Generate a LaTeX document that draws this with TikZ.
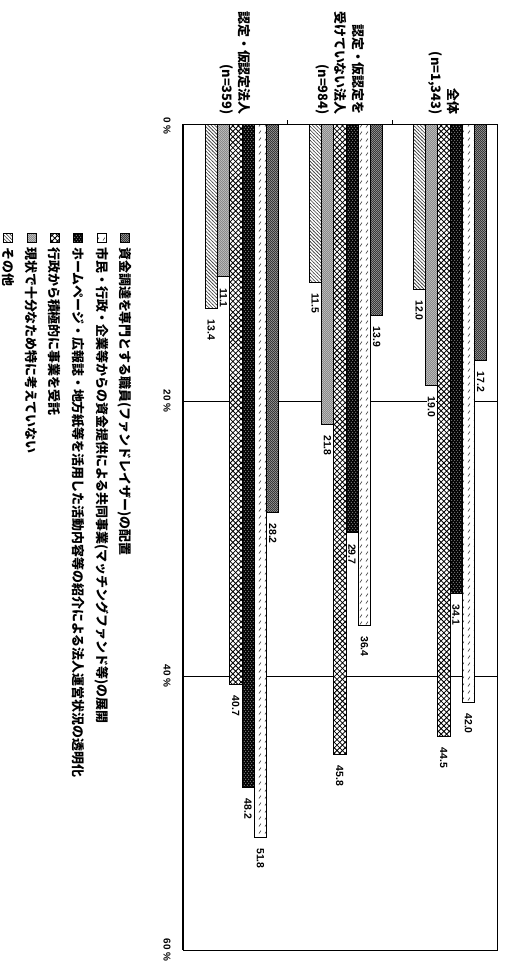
\documentclass[tikz,border=0pt]{standalone}
\usepackage{fontspec}
\setmainfont{Liberation Sans}
\newfontfamily\jp{Noto Sans CJK JP}
\usetikzlibrary{patterns}
\pgfdeclarepatternformonly{chk}{\pgfqpoint{0pt}{0pt}}{\pgfqpoint{2.4pt}{2.4pt}}{\pgfqpoint{2.4pt}{2.4pt}}{%
  \pgfpathrectangle{\pgfqpoint{0pt}{0pt}}{\pgfqpoint{0.9pt}{0.9pt}}%
  \pgfpathrectangle{\pgfqpoint{1.2pt}{1.2pt}}{\pgfqpoint{0.9pt}{0.9pt}}%
  \pgfusepath{fill}}
\pgfdeclarepatternformonly{spk}{\pgfqpoint{0pt}{0pt}}{\pgfqpoint{3pt}{4pt}}{\pgfqpoint{3pt}{4pt}}{%
  \pgfpathrectangle{\pgfqpoint{0.5pt}{0.5pt}}{\pgfqpoint{0.7pt}{0.7pt}}%
  \pgfpathrectangle{\pgfqpoint{2pt}{2.5pt}}{\pgfqpoint{0.7pt}{0.7pt}}%
  \pgfusepath{fill}}
\pgfdeclarepatternformonly{slsh}{\pgfqpoint{0pt}{0pt}}{\pgfqpoint{6pt}{7pt}}{\pgfqpoint{6pt}{7pt}}{%
  \pgfsetlinewidth{0.6pt}%
  \pgfpathmoveto{\pgfqpoint{2pt}{1.5pt}}\pgfpathlineto{\pgfqpoint{4pt}{4.5pt}}%
  \pgfusepath{stroke}}
\pgfdeclarepatternformonly{xlat}{\pgfqpoint{-0.5pt}{-0.5pt}}{\pgfqpoint{6pt}{6pt}}{\pgfqpoint{5.5pt}{5.5pt}}{%
  \pgfsetlinewidth{0.8pt}%
  \pgfpathmoveto{\pgfqpoint{-0.3pt}{-0.3pt}}\pgfpathlineto{\pgfqpoint{5.8pt}{5.8pt}}%
  \pgfpathmoveto{\pgfqpoint{-0.3pt}{5.8pt}}\pgfpathlineto{\pgfqpoint{5.8pt}{-0.3pt}}%
  \pgfusepath{stroke}}
\pgfdeclarepatternformonly{bsl}{\pgfqpoint{-0.5pt}{-0.5pt}}{\pgfqpoint{4pt}{4pt}}{\pgfqpoint{3.5pt}{3.5pt}}{%
  \pgfsetlinewidth{0.6pt}%
  \pgfpathmoveto{\pgfqpoint{-0.3pt}{3.8pt}}\pgfpathlineto{\pgfqpoint{3.8pt}{-0.3pt}}%
  \pgfusepath{stroke}}
\tikzset{
  s1/.style={preaction={fill=black!85}, pattern=chk, pattern color=white},
  s2/.style={preaction={fill=white}, pattern=slsh, pattern color=black!75},
  s3/.style={preaction={fill=black}, pattern=spk, pattern color=white},
  s4/.style={preaction={fill=white}, pattern=xlat, pattern color=black},
  s5/.style={preaction={fill=black!50}, pattern=chk, pattern color=white},
  s6/.style={preaction={fill=white}, pattern=bsl, pattern color=black!75},
  barline/.style={line width=0.8bp, draw=black},
  vlab/.style={rotate=-90, anchor=west, fill=white, inner xsep=1bp, inner ysep=1.2bp,
    font=\bfseries\fontsize{10.5}{11}\selectfont},
  cat/.style={rotate=-90, anchor=east, align=right, inner sep=0pt,
    font=\jp\bfseries\fontsize{13}{17.5}\selectfont},
  axl/.style={rotate=-90, inner sep=0pt, font=\bfseries\fontsize{10}{10}\selectfont},
  leg/.style={rotate=-90, anchor=west, inner sep=0pt, font=\jp\bfseries\fontsize{13}{13}\selectfont},
  icon/.style={line width=0.6bp, draw=black}
}
\newcommand\mkbar[3]{%
  \pgfmathsetmacro\yend{124+#3*13.767}%
  \draw[barline,#1] (#2,124) rectangle ({#2+12.3},\yend);%
}
\begin{document}
\begin{tikzpicture}[x=1bp,y=-1bp]
\useasboundingbox (0,0) rectangle (505,967);
% gridlines and frame
\draw[line width=0.6bp] (183,401) -- (497,401);
\draw[line width=0.6bp] (183,676) -- (497,676);
% bars
\foreach \xx/\vv in {474.5/17.2, 370.5/13.9, 266.5/28.2} {\mkbar{s1}{\xx}{\vv}}
\foreach \xx/\vv in {462.2/42.0, 358.2/36.4, 254.2/51.8} {\mkbar{s2}{\xx}{\vv}}
\foreach \xx/\vv in {449.9/34.1, 345.9/29.7, 241.9/48.2} {\mkbar{s3}{\xx}{\vv}}
\foreach \xx/\vv in {437.6/44.5, 333.6/45.8, 229.6/40.7} {\mkbar{s4}{\xx}{\vv}}
\foreach \xx/\vv in {425.3/19.0, 321.3/21.8, 217.3/11.1} {\mkbar{s5}{\xx}{\vv}}
\foreach \xx/\vv in {413/12.0, 309/11.5, 205/13.4} {\mkbar{s6}{\xx}{\vv}}
\draw[line width=0.9bp] (183,124) rectangle (497,950);
\draw[line width=1.3bp] (183,124) -- (183,950);
\draw[line width=0.8bp] (287.7,124) -- (287.7,120);
\draw[line width=0.8bp] (392.3,124) -- (392.3,120);
% value labels
\foreach \xx/\vv/\nn in {474.5/17.2/a1, 370.5/13.9/b1, 266.5/28.2/c1,
  462.2/42.0/a2, 358.2/36.4/b2, 254.2/51.8/c2,
  449.9/34.1/a3, 345.9/29.7/b3, 241.9/48.2/c3,
  437.6/44.5/a4, 333.6/45.8/b4, 229.6/40.7/c4,
  425.3/19.0/a5, 321.3/21.8/b5, 217.3/11.1/c5,
  413/12.0/a6, 309/11.5/b6, 205/13.4/c6}
  {\node[vlab] (v\nn) at ({\xx+6.15},{124+\vv*13.767+10}) {\vv};}
% category labels
\node[cat] (g1) at (444,115) {全体\\(n=1,343)};
\node[cat] (g2) at (340,115) {認定・仮認定を\\受けていない法人\\(n=984)};
\node[cat] (g3) at (235,115) {認定・仮認定法人\\(n=359)};
% axis labels
\node[axl] (t0) at (167,126) {0 \%};
\node[axl] (t20) at (167,401) {20 \%};
\node[axl] (t40) at (167,676) {40 \%};
\node[axl] (t60) at (167,950) {60 \%};
% legend
\draw[icon,s1] (120.5,233) rectangle (129.5,242);
\node[leg] (l1) at (125,247) {資金調達を専門とする職員(ファンドレイザー)の配置};
\draw[icon,s2] (97.1,233) rectangle (106.1,242);
\node[leg] (l2) at (101.6,247) {市民・行政・企業等からの資金提供による共同事業(マッチングファンド等)の展開};
\draw[icon,s3] (73.7,233) rectangle (82.7,242);
\node[leg] (l3) at (78.2,247) {ホームページ・広報誌・地方紙等を活用した活動内容等の紹介による法人運営状況の透明化};
\draw[icon,s4] (50.3,233) rectangle (59.3,242);
\node[leg] (l4) at (54.8,247) {行政から積極的に事業を受託};
\draw[icon,s5] (26.9,233) rectangle (35.9,242);
\node[leg] (l5) at (31.4,247) {現状で十分なため特に考えていない};
\draw[icon,s6] (3.5,233) rectangle (12.5,242);
\node[leg] (l6) at (8,247) {その他};
\end{tikzpicture}
\end{document}
